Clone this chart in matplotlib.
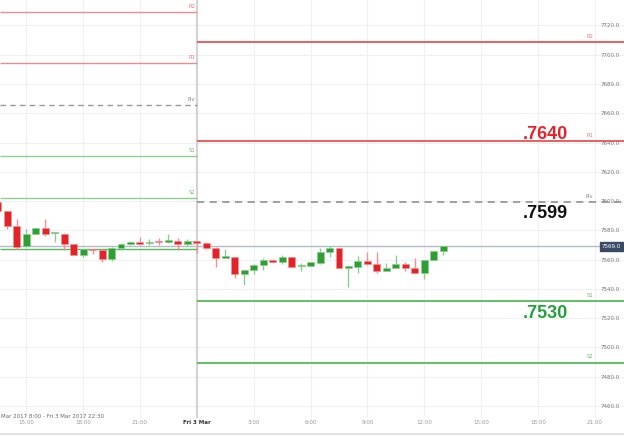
import matplotlib
matplotlib.use("Agg")
import matplotlib.pyplot as plt
import matplotlib.dates as mdates
import matplotlib.transforms as mtransforms
from matplotlib.lines import Line2D
import pandas as pd

# 30 minute candles, AUD/USD style price (x10000)
start = "2017-03-02 13:30"
opens = [7599.5, 7593.2, 7583, 7569.3, 7577.5, 7581.6, 7578, 7577.7, 7570.5, 7563.2,
         7567, 7566.6, 7560.2, 7568, 7570.5, 7571.8, 7571.2, 7572.6, 7572, 7572.9,
         7570.9, 7572.3, 7571.5, 7568.1, 7561.3, 7562, 7550, 7553, 7556, 7559.8,
         7558, 7562, 7555.5, 7555.8, 7557.5, 7565.4, 7567.7, 7554.5, 7555.2, 7559.3,
         7557, 7552.5, 7554.3, 7557, 7554, 7550.7, 7559.8, 7566.1]
highs = [7600, 7593.5, 7587.7, 7581, 7581.6, 7587.7, 7578.5, 7578, 7570.5, 7567.5,
         7567.5, 7567, 7568.8, 7571.4, 7572.7, 7575.2, 7574, 7574.5, 7577.3, 7575,
         7574, 7573, 7572, 7568.5, 7567, 7562, 7553.5, 7557, 7561, 7560,
         7563.2, 7562, 7557.5, 7558.2, 7568.1, 7569.5, 7568, 7555.5, 7562.5, 7565,
         7565.4, 7557.5, 7563, 7558, 7561, 7560, 7566.5, 7569.5]
lows = [7593, 7581, 7567.3, 7568.6, 7577.5, 7576, 7572.2, 7566.6, 7563, 7562,
        7563.8, 7558, 7559.3, 7566.6, 7570, 7570, 7570, 7570, 7571.5, 7566.6,
        7569.5, 7564.3, 7567.5, 7555.2, 7561, 7547.7, 7542.7, 7550.2, 7553, 7557.7,
        7556.8, 7555, 7552.5, 7555.5, 7557, 7562, 7554, 7541.5, 7551, 7556.3,
        7551, 7552, 7554, 7552.5, 7550, 7546.6, 7559.5, 7563.2]
closes = [7593.2, 7583, 7568.6, 7577.5, 7581.6, 7577.5, 7578.4, 7570.5, 7563.2, 7567.3,
          7566.2, 7560.4, 7568.1, 7570.5, 7571.8, 7570.5, 7572.3, 7572, 7573.4, 7570.5,
          7572.7, 7571.5, 7568.1, 7561.3, 7562, 7550, 7553, 7556.3, 7560, 7558,
          7562, 7555.2, 7556, 7558, 7565.4, 7567.7, 7554, 7555.2, 7559.3, 7557,
          7552.5, 7554, 7557, 7554.5, 7550.7, 7559.8, 7566.1, 7569.3]
last_price = 7569.0

# pivot levels: previous day (Mar 2) and today (Mar 3)
lvl_names = ["R2", "R1", "Piv", "S1", "S2"]
lvl_mar2 = [7728.9, 7694, 7665.4, 7630.6, 7602]
s3_mar2 = 7567.3
lvl_mar3 = [7708.5, 7641, 7599.5, 7531.5, 7489.5]
big_labels = [".7640", ".7599", ".7530"]

yticks = [7460, 7480, 7500, 7520, 7540, 7560, 7580, 7600, 7620, 7640, 7660, 7680, 7700, 7720]
xtick_times = ["2017-03-02 15:00", "2017-03-02 18:00", "2017-03-02 21:00", "2017-03-03 00:00",
               "2017-03-03 03:00", "2017-03-03 06:00", "2017-03-03 09:00", "2017-03-03 12:00",
               "2017-03-03 15:00", "2017-03-03 18:00", "2017-03-03 21:00"]
xtick_labels = ["15:00", "18:00", "21:00", "Fri 3 Mar", "3:00", "6:00", "9:00", "12:00",
                "15:00", "18:00", "21:00"]
range_text = "Mar 2017 8:00 - Fri 3 Mar 2017 22:30"

times = pd.date_range(start, periods=len(opens), freq="30min")
x = mdates.date2num(times.to_pydatetime())
midnight = mdates.date2num(pd.Timestamp("2017-03-03 00:00"))
x0 = mdates.date2num(pd.Timestamp("2017-03-02 13:37"))
x1 = mdates.date2num(pd.Timestamp("2017-03-03 22:32"))
t21 = mdates.date2num(pd.Timestamp("2017-03-03 21:00"))

fig = plt.figure(figsize=(6.24, 4.37), dpi=100)
ax = fig.add_axes([0, 19 / 437, 1, 418 / 437])
ax.set_xlim(x0, x1)
ax.set_ylim(7451.7, 7737.4)
for s in ax.spines.values():
    s.set_visible(False)

# grid
for t in xtick_times:
    xv = mdates.date2num(pd.Timestamp(t))
    if xv == midnight:
        ax.axvline(xv, color="#d4d4d4", lw=1.6, zorder=1)
    else:
        ax.axvline(xv, color="#eef0f3", lw=0.8, zorder=0)
for yv in yticks:
    ax.axhline(yv, color="#eef0f3", lw=0.8, zorder=0)

# pivot lines
red_l, red_r = "#f08a8a", "#e65454"
grn_l, grn_r = "#8fcf8f", "#57b957"
cols_l = [red_l, red_l, "#999999", grn_l, grn_l]
cols_r = [red_r, red_r, "#999999", grn_r, grn_r]
lab_l = ["#e87b7b", "#e87b7b", "#888888", "#6dbb6d", "#6dbb6d"]
off = 2.2
for name, v, c, lc in zip(lvl_names, lvl_mar2, cols_l, lab_l):
    ls = (0, (4, 3)) if name == "Piv" else "-"
    ax.hlines(v, x0, midnight, color=c, lw=1.0, linestyles=ls, zorder=2)
    ax.text(midnight - 0.004, v + off, name, fontsize=3.8, color=lc, ha="right", va="bottom")
ax.hlines(s3_mar2, x0, midnight, color=grn_r, lw=1.0, zorder=2)
ax.text(midnight - 0.004, s3_mar2 + off, "S3", fontsize=3.8, color="#aaaaaa", ha="right", va="bottom")
for name, v, c, lc in zip(lvl_names, lvl_mar3, cols_r, lab_l):
    ls = (0, (4, 3)) if name == "Piv" else "-"
    ax.hlines(v, midnight, x1, color=c, lw=1.3, linestyles=ls, zorder=2)
    ax.text(t21 - 0.003, v + off, name, fontsize=3.8, color=lc, ha="right", va="bottom")

# last price line
ax.axhline(last_price, color="#b4bccb", lw=1.0, zorder=2)

# candles
w = 22 / 1440
for xi, o, h, l, c in zip(x, opens, highs, lows, closes):
    up = c >= o
    body = "#2f9e35" if up else "#e3232a"
    wick = "#8ccf8c" if up else "#f09090"
    ax.vlines(xi, l, h, color=wick, lw=1.0, zorder=3)
    hgt = max(abs(c - o), 0.9)
    ax.bar(xi, hgt, bottom=min(o, c), width=w, color=body, edgecolor=wick, lw=0.5, zorder=4)

# big level labels
bx = mdates.date2num(pd.Timestamp("2017-03-03 17:13"))
ax.text(bx, lvl_mar3[1] + 1.3, big_labels[0], fontsize=13, fontweight="bold",
        family="Liberation Sans", color="#e8202a", va="baseline", zorder=6)
ax.text(bx, lvl_mar3[2] - 2.5, big_labels[1], fontsize=13, fontweight="bold",
        family="Liberation Sans", color="#111111", va="top", zorder=6)
ax.text(bx, lvl_mar3[3] - 2.5, big_labels[2], fontsize=13, fontweight="bold",
        family="Liberation Sans", color="#22a33a", va="top", zorder=6)

# axes ticks
ax.yaxis.tick_right()
ax.set_yticks(yticks, ["%.1f" % v for v in yticks])
ax.tick_params(axis="y", length=0, pad=-3, labelsize=4, labelcolor="#777777")
for lab in ax.get_yticklabels():
    lab.set_ha("right")
ax.set_xticks([mdates.date2num(pd.Timestamp(t)) for t in xtick_times], xtick_labels)
ax.tick_params(axis="x", length=0, pad=1.5, labelsize=4, labelcolor="#999999")
for lab in ax.get_xticklabels():
    if lab.get_text() == "Fri 3 Mar":
        lab.set_color("#333333")
        lab.set_fontweight("bold")

# price tag
trans = mtransforms.blended_transform_factory(ax.transAxes, ax.transData)
ax.text(0.9955, last_price, "%.1f" % last_price, transform=trans, fontsize=4, color="white",
        ha="right", va="center", zorder=7,
        bbox=dict(boxstyle="square,pad=0.35", fc="#3b4b66", ec="#3b4b66"))

fig.text(1 / 624, 1 - 416 / 437, range_text,
         fontsize=4, color="#666666", ha="left", va="center")
fig.add_artist(Line2D([0, 1], [1 - 434 / 437] * 2, transform=fig.transFigure,
                      color="#dddddd", lw=1.2))

fig.savefig("out.png", dpi=100)
